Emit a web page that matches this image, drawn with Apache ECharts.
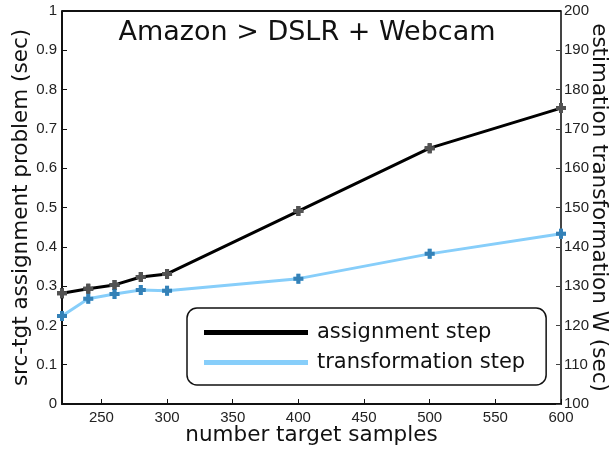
<!DOCTYPE html>
<html>
<head>
<meta charset="utf-8">
<script src="https://cdn.jsdelivr.net/npm/echarts@6/dist/echarts.min.js"></script>
<style>
  html, body { margin: 0; padding: 0; background: #fff; }
  #chart { width: 609px; height: 450px; }
</style>
</head>
<body>
<div id="chart"></div>
<script>
// Number of target samples
const samples = [220, 240, 260, 280, 300, 400, 500, 600];
// Time of the src-tgt assignment step (sec, left axis)
const assignmentTime = [0.282, 0.293, 0.303, 0.323, 0.331, 0.491, 0.651, 0.753];
// Time of the transformation W estimation step (sec, right axis)
const transformTime = [122.4, 126.8, 128.0, 129.0, 128.8, 131.9, 138.2, 143.3];
// Tick labels on the sample axis
const xTicks = [250, 300, 350, 400, 450, 500, 550, 600];

const plusMarker = 'path://M3,0 L7,0 L7,3 L10,3 L10,7 L7,7 L7,10 L3,10 L3,7 L0,7 L0,3 L3,3 Z';

const chart = echarts.init(document.getElementById('chart'));
const tickFont = { fontFamily: 'Liberation Sans', fontSize: 15, color: '#222' };
const nameFont = { fontFamily: 'DejaVu Sans', fontSize: 21.5, color: '#111' };

chart.setOption({
  animation: false,
  grid: { left: 62, right: 48, top: 11, bottom: 46, outerBoundsMode: 'none' },
  title: {
    text: 'Amazon > DSLR + Webcam',
    left: 302, top: 14, textAlign: 'center',
    textStyle: { fontFamily: 'DejaVu Sans', fontSize: 27, fontWeight: 'normal', color: '#111' }
  },
  legend: {
    orient: 'vertical',
    left: 187, top: 308,
    padding: [14, 21, 12, 17],
    itemGap: 9,
    itemWidth: 104, itemHeight: 5,
    icon: 'rect',
    borderColor: '#111', borderWidth: 1.5, borderRadius: 10,
    backgroundColor: '#fff',
    textStyle: { fontFamily: 'DejaVu Sans', fontSize: 21, color: '#111', padding: [0, 0, 0, 4] },
    data: ['assignment step', 'transformation step']
  },
  xAxis: {
    type: 'value', min: 220, max: 600,
    name: 'number target samples', nameLocation: 'middle', nameGap: 20,
    nameMoveOverlap: false,
    nameTextStyle: nameFont,
    axisLine: { lineStyle: { color: '#111', width: 2 } },
    axisTick: { inside: true, length: 5, customValues: xTicks, lineStyle: { color: '#111' } },
    axisLabel: { ...tickFont, margin: 6, customValues: xTicks },
    splitLine: { show: false }
  },
  yAxis: [
    {
      type: 'value', min: 0, max: 1, interval: 0.1,
      name: 'src-tgt assignment problem (sec)', nameLocation: 'middle', nameGap: 30,
      nameMoveOverlap: false,
      nameTextStyle: nameFont,
      axisLine: { show: true, lineStyle: { color: '#111', width: 2 } },
      axisTick: { inside: true, length: 5, lineStyle: { color: '#111' } },
      axisLabel: { ...tickFont, margin: 5, formatter: v => String(+v.toFixed(1)) },
      splitLine: { show: false }
    },
    {
      type: 'value', min: 100, max: 200, interval: 10, position: 'right',
      name: 'estimation transformation W (sec)', nameLocation: 'middle', nameGap: 27,
      nameRotate: -90, nameMoveOverlap: false,
      nameTextStyle: nameFont,
      axisLine: { show: true, lineStyle: { color: '#444', width: 2 } },
      axisTick: { inside: true, length: 5, lineStyle: { color: '#444' } },
      axisLabel: { ...tickFont, margin: 3 },
      splitLine: { show: false }
    }
  ],
  graphic: [{
    type: 'line', z: 5,
    shape: { x1: 62, y1: 11, x2: 561, y2: 11 },
    style: { stroke: '#111', lineWidth: 2 }
  }],
  series: [
    {
      name: 'assignment step', type: 'line', yAxisIndex: 0,
      data: samples.map((s, i) => [s, assignmentTime[i]]),
      lineStyle: { color: '#000', width: 3 },
      itemStyle: { color: '#000' },
      symbol: plusMarker, symbolSize: 10,
      z: 3,
      emphasis: { disabled: true }
    },
    {
      name: 'transformation step', type: 'line', yAxisIndex: 1,
      data: samples.map((s, i) => [s, transformTime[i]]),
      lineStyle: { color: '#87cefa', width: 3 },
      itemStyle: { color: '#87cefa' },
      symbol: plusMarker, symbolSize: 10,
      z: 2,
      emphasis: { disabled: true }
    },
    // marker overlays in their own colours
    {
      type: 'scatter', yAxisIndex: 0,
      data: samples.map((s, i) => [s, assignmentTime[i]]),
      symbol: plusMarker, symbolSize: 10, itemStyle: { color: '#666' }, z: 4, silent: true
    },
    {
      type: 'scatter', yAxisIndex: 1,
      data: samples.map((s, i) => [s, transformTime[i]]),
      symbol: plusMarker, symbolSize: 10, itemStyle: { color: '#1f6ea6' }, z: 4, silent: true
    }
  ]
});
</script>
</body>
</html>
